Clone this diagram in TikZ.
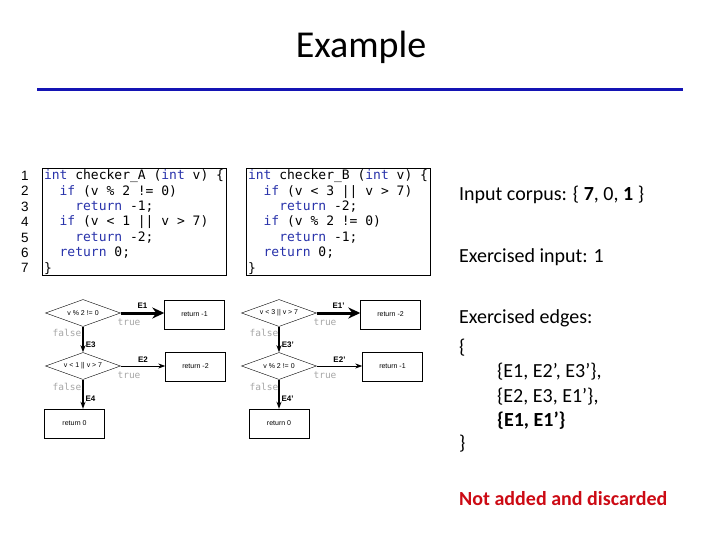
\documentclass[tikz,border=0pt]{standalone}
\usepackage{fontspec}
\setmainfont{Carlito}
\setsansfont{Liberation Sans}
\newfontfamily\codemono{DejaVu Sans Mono}
\usetikzlibrary{shapes.geometric}
\usetikzlibrary{arrows.meta}
\definecolor{titlerule}{RGB}{20,20,180}
\definecolor{kwblue}{RGB}{40,50,170}
\definecolor{alertred}{RGB}{204,10,20}
\newcommand{\kw}[1]{\textcolor{kwblue}{#1}}
\newcommand{\codefont}{\codemono\fontsize{13}{15.4}\selectfont}
\newcommand{\codespaces}{\spaceskip=0.602em\xspaceskip=0.602em\relax}

\tikzset{
  decision/.style={draw,diamond,aspect=2.8,inner sep=0pt,minimum width=75pt,minimum height=27pt,font=\sffamily\fontsize{7}{8}\selectfont},
  outcome/.style={draw,rectangle,inner sep=0pt,minimum width=60pt,minimum height=29pt,font=\sffamily\fontsize{7}{8}\selectfont},
  edgelbl/.style={font=\sffamily\bfseries\fontsize{8}{9}\selectfont,inner sep=1pt},
  branchlbl/.style={font=\codemono\fontsize{9.5}{10}\selectfont,text=gray!70,inner sep=0pt},
  codebox/.style={draw,line width=1pt,anchor=north west,align=left,inner xsep=1.5pt,inner ysep=0pt,minimum height=107pt,text width=181pt,font=\codefont},
  slidetext/.style={anchor=base west,inner sep=0pt,font=\fontsize{20}{24}\selectfont},
}

\begin{document}
\begin{tikzpicture}[x=1pt,y=-1pt]
\def\hl{7pt}
\def\hw{5pt}
\useasboundingbox (0,0) rectangle (720,540);

% title
\node[font=\fontsize{38}{42}\selectfont] (title) at (361,47) {Example};
\draw[titlerule,line width=3pt] (37,90) -- (683,90);

% source of both checkers
\node[align=right,inner sep=0pt,font=\sffamily\fontsize{13.5}{15.4}\selectfont] (linenums) at (25,222) {1\\2\\3\\4\\5\\6\\7};
\node[codebox] (codeA) at (42,168) {\codespaces\kw{int} checker\_A (\kw{int} v) \{\\
~~\kw{if} (v \% 2 != 0)\\
~~~~\kw{return} -1;\\
~~\kw{if} (v < 1 || v > 7)\\
~~~~\kw{return} -2;\\
~~\kw{return} 0;\\
\}};
\node[codebox] (codeB) at (246,168) {\codespaces\kw{int} checker\_B (\kw{int} v) \{\\
~~\kw{if} (v < 3 || v > 7)\\
~~~~\kw{return} -2;\\
~~\kw{if} (v \% 2 != 0)\\
~~~~\kw{return} -1;\\
~~\kw{return} 0;\\
\}};

% flow graph of checker_A
\node[decision] (dA1) at (83,313) {v \% 2 != 0};
\node[outcome] (rA1) at (194.5,314.5) {return -1};
\node[decision] (dA2) at (83,366) {v < 1 || v > 7};
\node[outcome] (rA2) at (195.5,366.5) {return -2};
\node[outcome] (rA3) at (74.5,423.5) {return 0};
\draw[line width=3pt,-{Stealth[length=12pt,width=11pt]}] (dA1.east) -- (dA1.east -| rA1.west) node[edgelbl,midway,above=2pt] (eA1) {E1};
\draw[line width=0.8pt,-{Stealth[length=\hl,width=\hw]}] (dA2.east) -- (dA2.east -| rA2.west) node[edgelbl,midway,above=2pt] (eA2) {E2};
\draw[line width=1.6pt,-{Stealth[length=\hl,width=\hw]}] (dA1.south) -- (dA2.north) node[edgelbl,pos=0.7,right=1pt] (eA3) {E3};
\draw[line width=1.2pt,-{Stealth[length=\hl,width=\hw]}] (dA2.south) -- (dA2.south |- rA3.north) node[edgelbl,pos=0.65,right=1pt] (eA4) {E4};
\node[branchlbl] (tA1) at (129,322) {true};
\node[branchlbl] (fA1) at (67,333) {false};
\node[branchlbl] (tA2) at (129,375) {true};
\node[branchlbl] (fA2) at (67,387) {false};

% flow graph of checker_B
\node[decision] (dB1) at (279,313) {v < 3 || v > 7};
\node[outcome] (rB1) at (390.5,314.5) {return -2};
\node[decision] (dB2) at (279,366) {v \% 2 != 0};
\node[outcome] (rB2) at (392.5,366.5) {return -1};
\node[outcome] (rB3) at (279,423.5) {return 0};
\draw[line width=3pt,-{Stealth[length=12pt,width=11pt]}] (dB1.east) -- (dB1.east -| rB1.west) node[edgelbl,midway,above=2pt] (eB1) {E1'};
\draw[line width=0.8pt,-{Stealth[length=\hl,width=\hw]}] (dB2.east) -- (dB2.east -| rB2.west) node[edgelbl,midway,above=2pt] (eB2) {E2'};
\draw[line width=1.6pt,-{Stealth[length=\hl,width=\hw]}] (dB1.south) -- (dB2.north) node[edgelbl,pos=0.7,right=1pt] (eB3) {E3'};
\draw[line width=1.2pt,-{Stealth[length=\hl,width=\hw]}] (dB2.south) -- (rB3.north) node[edgelbl,pos=0.65,right=1pt] (eB4) {E4'};
\node[branchlbl] (tB1) at (325,322) {true};
\node[branchlbl] (fB1) at (264,333) {false};
\node[branchlbl] (tB2) at (325,375) {true};
\node[branchlbl] (fB2) at (264,387) {false};

% right column
\node[slidetext] (corpus) at (459,201) {Input corpus: \{ \textbf{7}, 0, \textbf{1} \}};
\node[slidetext] (input) at (459,262) {Exercised input: 1};
\node[slidetext] (edges) at (459,323) {Exercised edges:};
\node[slidetext] (open) at (459,353) {\{};
\node[slidetext] (set1) at (497,377) {\{E1, E2’, E3’\},};
\node[slidetext] (set2) at (497,402) {\{E2, E3, E1’\},};
\node[slidetext] (set3) at (497,426) {\textbf{\{E1, E1’\}}};
\node[slidetext] (close) at (459,449) {\}};
\node[slidetext,text=alertred,font=\bfseries\fontsize{20}{24}\selectfont] (verdict) at (459,505) {Not added and discarded};
\end{tikzpicture}
\end{document}
